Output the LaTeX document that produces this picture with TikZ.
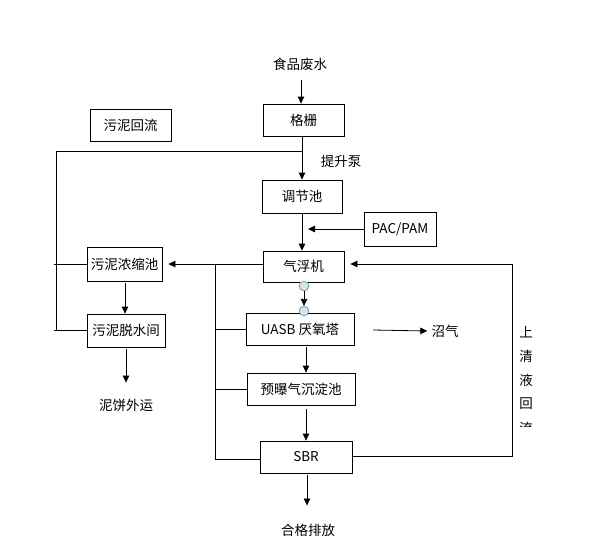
\documentclass[tikz,border=0pt]{standalone}
\usepackage{fontspec}
\setmainfont{Noto Sans CJK SC}
\usetikzlibrary{arrows.meta}
\definecolor{dotfill}{HTML}{D6E6EE}
\definecolor{dotline}{HTML}{7F9AA8}
\begin{document}
\begin{tikzpicture}[x=1pt,y=-1pt,
  box/.style={draw, line width=0.8pt, inner sep=0pt, font=\fontsize{13.5}{15}\selectfont},
  lbl/.style={inner sep=0pt, font=\fontsize{13.5}{15}\selectfont},
  con/.style={line width=0.8pt},
  arr/.style={con, -{Triangle[length=7pt,width=6.5pt]}},
  dot/.style={circle, draw=dotline, fill=dotfill, line width=0.7pt, minimum size=9.5pt, inner sep=0pt}]
\useasboundingbox (0,0) rectangle (608,558);

% boxes
\node[box, minimum width=81pt, minimum height=32pt] (gs) at (303.5,120) {格栅};
\node[box, minimum width=80pt, minimum height=33pt] (tj) at (302,196.5) {调节池};
\node[box, minimum width=81pt, minimum height=32pt] (hl) at (130.5,125) {污泥回流};
\node[box, minimum width=75pt, minimum height=34pt] (nong) at (124.5,264) {污泥浓缩池};
\node[box, minimum width=78pt, minimum height=33pt] (ts) at (126,330.5) {污泥脱水间};
\node[box, minimum width=81pt, minimum height=31pt] (qf) at (303.5,266.5) {气浮机};
\node[box, minimum width=108pt, minimum height=32pt] (uasb) at (300,329) {UASB 厌氧塔};
\node[box, minimum width=108pt, minimum height=32pt] (yb) at (301,389) {预曝气沉淀池};
\node[box, minimum width=92pt, minimum height=32pt] (sbr) at (306,457) {SBR};
\node[box, minimum width=72pt, minimum height=34pt] (pac) at (400,229) {PAC/PAM};

% labels
\node[lbl] (food) at (300,64) {食品废水};
\node[lbl] (pump) at (341,161) {提升泵};
\node[lbl] (nb) at (126,405) {泥饼外运};
\node[lbl] (zq) at (445,331) {沼气};
\node[lbl] (hg) at (308,530) {合格排放};
\node[lbl] (s1) at (526,332) {上};
\node[lbl] (s2) at (526,356) {清};
\node[lbl] (s3) at (526,380) {液};
\node[lbl] (s4) at (526,404) {回};
\begin{scope}
  \clip (512,412) rectangle (540,426);
  \node[lbl] (s5) at (526,428) {流};
\end{scope}

% junction coordinates
\coordinate (J1) at (56,151);
\coordinate (J2) at (215,264);
\coordinate (J3) at (215,459);
\coordinate (R1) at (512,456);
\coordinate (R2) at (512,264);
\coordinate (A1) at (301,80);
\coordinate (A2) at (302,136);
\coordinate (A3) at (306,347);
\coordinate (A4) at (306,409);
\coordinate (A5) at (307,475);
\coordinate (A6) at (125,283);
\coordinate (A7) at (126,349);
\coordinate (A8) at (373,330);

% main flow
\draw[arr] (A1) -- (A1 |- gs.north);
\draw[arr] (A2) -- (A2 |- tj.north);
\draw[con] (J1) -- (A2 |- J1);
\draw[arr] (tj.south) -- (tj.south |- qf.north);
\draw[arr] (pac.west) -- ([xshift=6pt]tj.south |- pac.west);

% dots between qf and uasb
\node[dot] (d1) at (304,286) {};
\node[dot] (d2) at (304,311) {};
\draw[arr] (d1.south) -- (d2.north);
\node[dot] at (d1) {};
\node[dot] at (d2) {};

\draw[arr] (A3) -- (A3 |- yb.north);
\draw[arr] (A4) -- (A4 |- sbr.north);
\draw[arr] (A5) -- ([yshift=18pt]A5 |- hg.north);
\draw[arr] (A8) -- ([xshift=-4pt]zq.west);

% sludge side
\draw[con] (J1) |- (ts.west);
\draw[con] ([xshift=-2pt]J1 |- nong.west) -- (nong.west);
\draw[con] ([xshift=-2pt]J1 |- ts.west) -- (ts.west);
\draw[arr] (J2 -| qf.west) -- ([xshift=6pt]nong.east |- J2);
\draw[con] (J2) -- (J3) -- (J3 -| sbr.west);
\draw[con] (J2 |- uasb.west) -- (uasb.west);
\draw[con] (J2 |- yb.west) -- (yb.west);
\draw[arr] (A6) -- (A6 |- ts.north);
\draw[arr] (A7) -- ([yshift=16pt]A7 |- nb.north);

% supernatant return
\draw[arr] (sbr.east |- R1) -- (R1) -- (R2) -- ([xshift=6pt]qf.east |- R2);
\end{tikzpicture}
\end{document}
